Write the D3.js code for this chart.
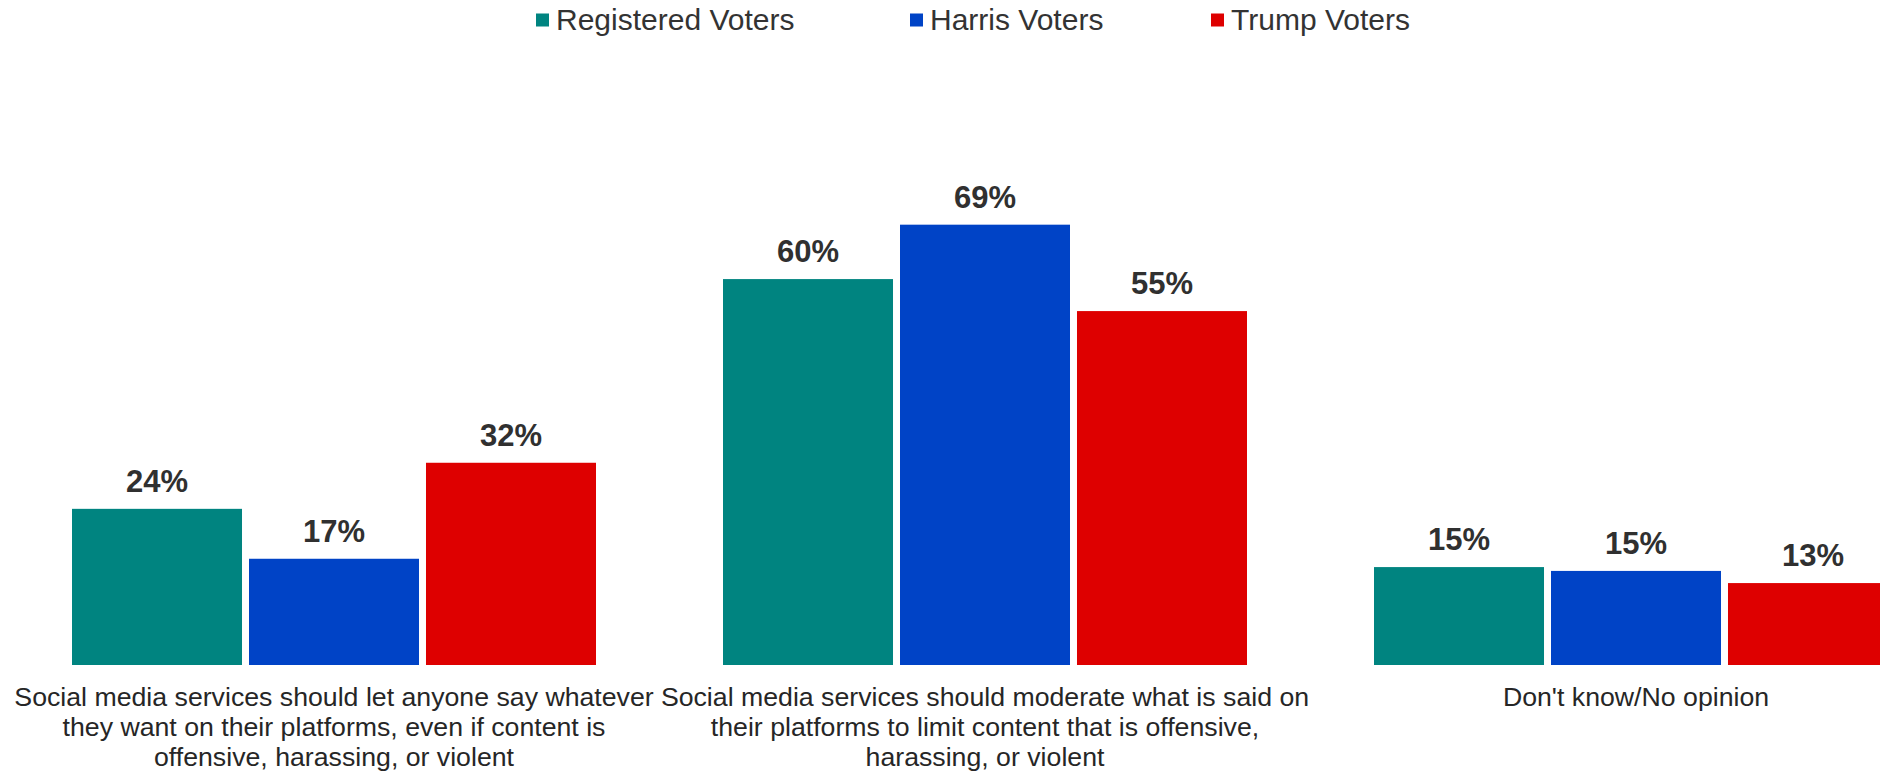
<!DOCTYPE html>
<html>
<head>
<meta charset="utf-8">
<script src="https://cdn.jsdelivr.net/npm/d3@7"></script>
<style>
  html, body { margin: 0; padding: 0; background: #ffffff; }
  svg { display: block; font-family: "Liberation Sans", Arial, sans-serif; }
</style>
</head>
<body>
<svg id="chart" width="1880" height="774"></svg>
<script>
// ---- data ----
const categories = [
  "Social media services should let anyone say whatever they want on their platforms, even if content is offensive, harassing, or violent",
  "Social media services should moderate what is said on their platforms to limit content that is offensive, harassing, or violent",
  "Don't know/No opinion"
];
const categoryLines = [
  ["Social media services should let anyone say whatever", "they want on their platforms, even if content is", "offensive, harassing, or violent"],
  ["Social media services should moderate what is said on", "their platforms to limit content that is offensive,", "harassing, or violent"],
  ["Don't know/No opinion"]
];
const seriesNames = ["Registered Voters", "Harris Voters", "Trump Voters"];
const seriesColors = ["#008480", "#0043C6", "#DE0000"];
const registeredVoters = [24.4, 60.3, 15.3];
const harrisVoters     = [16.6, 68.8, 14.7];
const trumpVoters      = [31.6, 55.3, 12.8];
const seriesValues = [registeredVoters, harrisVoters, trumpVoters];

// ---- layout ----
const svg = d3.select("#chart");
const baseY = 665;

const y = d3.scaleLinear().domain([0, 100]).range([baseY, baseY - 640]);

const x0 = d3.scaleBand()
  .domain(categories)
  .range([8.5, 1961.5])
  .paddingInner(0.1951)
  .paddingOuter(0.09755);

const x1 = d3.scaleBand()
  .domain(seriesNames)
  .range([0, x0.bandwidth()])
  .paddingInner(0.0395)
  .paddingOuter(0);

const color = d3.scaleOrdinal().domain(seriesNames).range(seriesColors);

const rows = [];
categories.forEach((c, ci) => {
  seriesNames.forEach((s, si) => {
    rows.push({ cat: c, series: s, value: seriesValues[si][ci] });
  });
});

const groups = svg.append("g").selectAll("g")
  .data(categories)
  .join("g")
  .attr("transform", d => `translate(${x0(d)},0)`);

groups.selectAll("rect")
  .data(c => rows.filter(r => r.cat === c))
  .join("rect")
  .attr("x", d => x1(d.series))
  .attr("y", d => y(d.value))
  .attr("width", x1.bandwidth())
  .attr("height", d => y(0) - y(d.value))
  .attr("fill", d => color(d.series));

groups.selectAll("text.val")
  .data(c => rows.filter(r => r.cat === c))
  .join("text")
  .attr("class", "val")
  .attr("x", d => x1(d.series) + x1.bandwidth() / 2)
  .attr("y", d => y(d.value) - 17)
  .attr("text-anchor", "middle")
  .attr("font-size", 31)
  .attr("font-weight", "bold")
  .attr("fill", "#303030")
  .text(d => Math.round(d.value) + "%");

// category labels
const catLabels = svg.append("g").selectAll("text")
  .data(categories)
  .join("text")
  .attr("text-anchor", "middle")
  .attr("font-size", 26.7)
  .attr("fill", "#262626")
  .attr("transform", d => `translate(${x0(d) + x0.bandwidth() / 2},706)`);

catLabels.selectAll("tspan")
  .data((d, i) => categoryLines[i])
  .join("tspan")
  .attr("x", 0)
  .attr("y", (d, i) => i * 30)
  .text(d => d);

// legend
const legendX = [536, 910, 1211];
const legend = svg.append("g").selectAll("g")
  .data(seriesNames)
  .join("g")
  .attr("transform", (d, i) => `translate(${legendX[i]},0)`);

legend.append("rect")
  .attr("x", 0).attr("y", 13.5)
  .attr("width", 13).attr("height", 13)
  .attr("fill", d => color(d));

legend.append("text")
  .attr("x", 20).attr("y", 30)
  .attr("font-size", 30)
  .attr("fill", "#333333")
  .text(d => d);
</script>
</body>
</html>
